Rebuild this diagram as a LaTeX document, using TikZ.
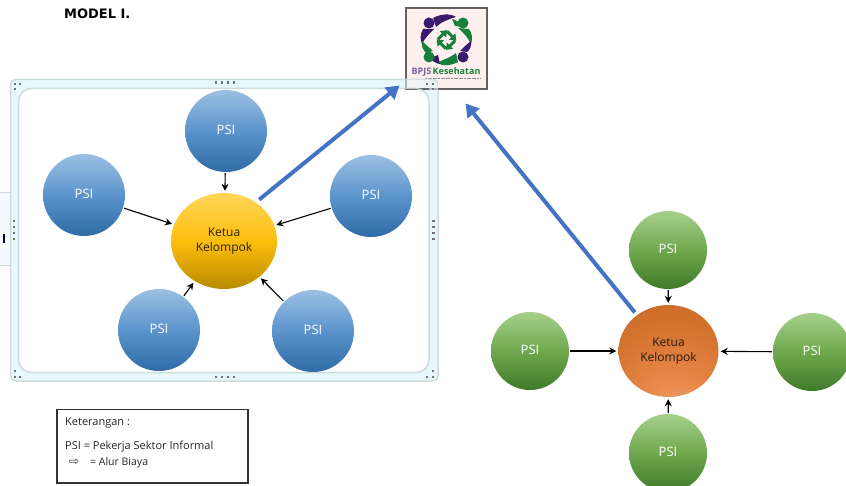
\documentclass[tikz,border=0pt]{standalone}
\usepackage{fontspec}
\setmainfont{Open Sans}
\newfontfamily\titlefont{DejaVu Sans}
\usetikzlibrary{arrows.meta,shapes.geometric,calc}
\definecolor{psiblueA}{HTML}{9CC0E2}
\definecolor{psiblueB}{HTML}{2F6BA6}
\definecolor{psiblueM}{HTML}{5B94CC}
\definecolor{psigreenA}{HTML}{A6D08C}
\definecolor{psigreenM}{HTML}{6FA84E}
\definecolor{psigreenB}{HTML}{3F7A28}
\definecolor{goldA}{HTML}{FFD65A}
\definecolor{goldM}{HTML}{FDBE0E}
\definecolor{goldB}{HTML}{B98A00}
\definecolor{moneyblue}{HTML}{4472C4}
\definecolor{bandfill}{HTML}{E6F8F9}
\definecolor{bandline}{HTML}{CFDCDD}
\definecolor{logopurple}{HTML}{3A1A6E}
\definecolor{logogreen}{HTML}{17803A}
\definecolor{copperA}{HTML}{EBAA7E}
\definecolor{copperB}{HTML}{E98A4B}
\definecolor{copperC}{HTML}{D4722F}
\definecolor{copperD}{HTML}{C0651F}
\definecolor{copperE}{HTML}{B55C1D}
\pgfdeclareradialshading{copperglow}{\pgfpoint{4bp}{-38bp}}{%
  color(0bp)=(copperA);
  color(15bp)=(copperB);
  color(38bp)=(copperC);
  color(65bp)=(copperD);
  color(90bp)=(copperE);
  color(100bp)=(copperE)}
\tikzset{
  psibase/.style={circle,minimum size=82pt,inner sep=0pt,text=white,font=\fontsize{13}{14}\selectfont},
  psiblue/.style={psibase,top color=psiblueA,bottom color=psiblueB,middle color=psiblueM},
  psigreen/.style={psibase,minimum size=78pt,top color=psigreenA,bottom color=psigreenB,middle color=psigreenM},
  leader/.style={ellipse,inner sep=0pt,align=center,font=\fontsize{12}{14.5}\selectfont},
  flow/.style={draw=black,line width=1.1pt,-{Stealth[length=7pt,width=7pt]},shorten <=1pt,shorten >=2pt},
  money/.style={draw=moneyblue,line width=4pt,-{Triangle[length=13pt,width=15pt]}},
  legendtext/.style={anchor=west,inner sep=0pt,font=\fontsize{11}{12}\selectfont,text=black!85},
  x=1pt,y=-1pt
}
\newcommand{\gripdot}[2]{\fill[black!55] (#1-1.1,#2-1.1) rectangle (#1+1.1,#2+1.1);}
\newcommand{\psilabel}{\raisebox{2pt}{PSI}}
\begin{document}
\begin{tikzpicture}
\useasboundingbox (0,0) rectangle (846,486);
\fill[white] (0,0) rectangle (846,486);
% fragment at the left edge
\fill[bandfill!50] (0,192) rectangle (10,265);
\draw[bandline,line width=1pt] (0,192.5) -- (10,192.5) (0,265.5) -- (10,265.5);
\fill[black!70!blue] (3,234) rectangle (4.5,243);
% frame
\draw[bandline,line width=1.5pt,fill=bandfill,rounded corners=5pt] (10.5,79.5) rectangle (438,381);
\draw[bandline,line width=1.5pt,fill=white,rounded corners=13pt] (18.5,88.5) rectangle (429,372.5);
% logo
\node[draw=black!62,line width=2pt,fill=white!90!red!60!white,minimum width=81pt,minimum height=81pt,inner sep=0pt] (logo) at (446,49) {};
% crescents
\fill[logopurple] (433,18) .. controls (440,14) and (450,13) .. (456,17) .. controls (449,19) and (441,22) .. (436,27) -- cycle;
\fill[logogreen] (452,19) .. controls (456,20) and (459,22) .. (463,27) -- (455,26) -- cycle;
\fill[logogreen] (469,29) .. controls (472,33) and (473,38) .. (471,44) .. controls (468,38) and (464,33) .. (458,28) -- cycle;
\fill[logopurple] (471,41) .. controls (472,45) and (470,50) .. (467,52) -- (460,51) .. controls (463,48) and (466,45) .. (471,41) -- cycle;
\fill[logogreen] (458,62) .. controls (451,66) and (442,66) .. (437,63) .. controls (442,60) and (450,58) .. (456,53) -- cycle;
\fill[logopurple] (440,64) .. controls (436,63) and (433,62) .. (430,58) -- (438,55) -- cycle;
\fill[logopurple] (423,29) .. controls (420,34) and (420,40) .. (422,44) .. controls (425,38) and (429,34) .. (434,29) -- cycle;
\fill[logogreen] (422,41) .. controls (421,46) and (423,50) .. (426,53) -- (433,51) .. controls (430,48) and (426,45) .. (422,41) -- cycle;
\fill[logopurple] (429,23) circle (5.5);
\fill[logogreen] (463,23) circle (5.5);
\fill[logogreen] (429,57) circle (5.5);
\fill[logopurple] (463,57) circle (5.5);
% pinwheel of arrows
\foreach \a in {45,135,225,315}{
  \draw[logogreen,line width=3pt,rotate around={\a:(446.5,40)}] (441,33.5) -- (449,33.5);
  \fill[logogreen,rotate around={\a:(446.5,40)}] (448,29) -- (454,33.5) -- (448,38) -- cycle;
}
\node[inner sep=0pt,font=\bfseries\fontsize{9}{10}\selectfont] (logotext) at (446,72) {\textcolor{logopurple!70}{BPJS}\,\textcolor{logogreen}{Kesehatan}};
\draw[black!45,line width=1pt,dash pattern=on 2pt off .6pt] (425,79) -- (481,79);
% frame seen through the logo corner
\begin{scope}
\clip (405,8) rectangle (438,91);
\fill[bandfill,opacity=.55] (405,79) rectangle (438,88);
\fill[bandfill,opacity=.55] (429,79) rectangle (438,91);
\draw[bandline,line width=1.5pt,opacity=.8,rounded corners=5pt] (10.5,79.5) rectangle (438,381);
\draw[bandline,line width=1.5pt,opacity=.8,rounded corners=13pt] (18.5,88.5) rectangle (429,372.5);
\end{scope}
% handles
\foreach \x in {216,222,228,234}{\gripdot{\x}{82.5}\gripdot{\x}{377}}
\foreach \y in {221,227,233,239}{\gripdot{14}{\y}\gripdot{433.5}{\y}}
\foreach \x/\y in {15/84,20/84,15/89, 427/84,433/84,433/89, 15/371,15/377,20/377, 433/371,427/377,433/377}{\gripdot{\x}{\y}}
% title
\node[anchor=west,inner sep=0pt,font=\titlefont\bfseries\fontsize{13}{14}\selectfont] (title) at (64,14) {MODEL I.};
% left cluster
\node[psiblue] (a1) at (226,131) {\psilabel};
\node[psiblue] (a2) at (84,195) {\psilabel};
\node[psiblue] (a3) at (371,196) {\psilabel};
\node[psiblue] (a4) at (159,330) {\psilabel};
\node[psiblue] (a5) at (313,331) {\psilabel};
\node[leader,minimum width=106pt,minimum height=96pt,top color=goldA,bottom color=goldB,middle color=goldM,text=black!75!goldB] (ka) at (224,241) {Ketua\\Kelompok};
\draw[flow] (a1) -- (ka);
\draw[flow] (a2) -- (ka);
\draw[flow] (a3) -- (ka);
\draw[flow] (a4) -- (ka);
\draw[flow] (a5) -- (ka);
% right cluster
\node[psigreen] (b1) at (668,250) {\psilabel};
\node[psigreen] (b2) at (530,351) {\psilabel};
\node[psigreen] (b3) at (812,352) {\psilabel};
\node[psigreen] (b4) at (668,453) {\psilabel};
\node[leader,minimum width=100pt,minimum height=92pt,shading=copperglow,text=black!80!brown] (kb) at (668.5,351) {Ketua\\Kelompok};
\draw[flow] (b1) -- (kb);
\draw[flow] (b2) -- (kb);
\draw[flow] (b3) -- (kb);
\draw[flow] (b4) -- (kb);
% payment arrows
\draw[money] ([xshift=3pt,yshift=3pt]ka.50) -- ([xshift=-5pt,yshift=5pt]logo.south west);
\draw[money] ([xshift=-3pt,yshift=2pt]kb.130) -- ([xshift=-22pt,yshift=-13pt]logo.south east);
% legend
\draw[black!80,line width=1.5pt,fill=white] (57,409.5) rectangle (248,483);
\node[legendtext] (l1) at (65,423) {Keterangan :};
\node[legendtext] (l2) at (65,447) {PSI = Pekerja Sektor Informal};
\node[legendtext,font=\titlefont\fontsize{12}{13}\selectfont] (l3) at (69,462) {⇨};
\node[legendtext,font=\fontsize{10.5}{12}\selectfont] (l4) at (90,463) {= Alur Biaya};
\end{tikzpicture}
\end{document}
